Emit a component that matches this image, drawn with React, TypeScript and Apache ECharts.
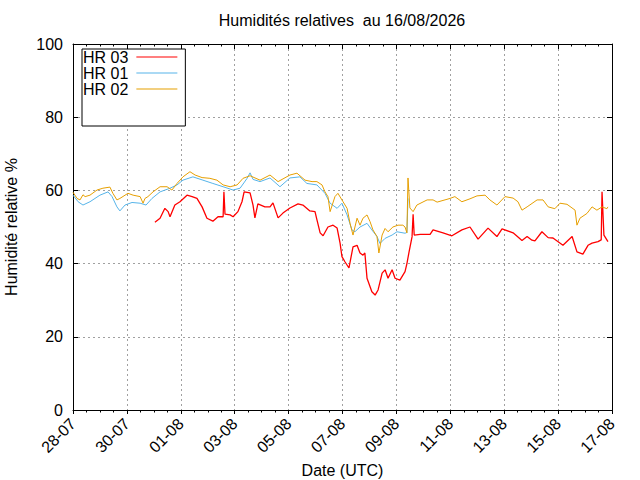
import { useEffect, useRef } from "react";
import * as echarts from "echarts";

// Time is given in days elapsed since 28-07-2026 00:00 UTC.
const BASE_UTC = Date.UTC(2026, 6, 28);
const X_MIN = 0;
const X_MAX = 20;
const X_STEP = 2;
const Y_MIN = 0;
const Y_MAX = 100;
const Y_STEP = 20;

const seriesNames = ["HR 03", "HR 01", "HR 02"];
const seriesColors = ["#ff0000", "#56b4e9", "#e69f00"];

const hr03Days = [
  3.04, 3.23, 3.41, 3.53, 3.6, 3.78, 3.97, 4.23, 4.42, 4.6, 4.79, 4.97, 5.19, 5.38, 5.57, 5.6, 5.64,
  5.83, 5.94, 6.12, 6.27, 6.35, 6.57, 6.68, 6.75, 6.86, 7.12, 7.31, 7.42, 7.61, 7.79, 8.05, 8.35,
  8.53, 8.79, 8.98, 9.05, 9.17, 9.28, 9.46, 9.65, 9.8, 9.91, 9.98, 10.09, 10.24, 10.39, 10.54,
  10.65, 10.76, 10.83, 10.91, 11.09, 11.21, 11.32, 11.47, 11.58, 11.69, 11.84, 11.95, 12.13,
  12.32, 12.39, 12.47, 12.58, 12.62, 12.66, 12.88, 13.25, 13.36, 13.73, 14.06, 14.43, 14.73,
  15.03, 15.4, 15.73, 15.92, 16.33, 16.66, 16.85, 17.03, 17.14, 17.4, 17.63, 17.81, 18.18, 18.52,
  18.7, 18.92, 19.11, 19.26, 19.48, 19.6, 19.63, 19.7, 19.85,
];
const hr03Values = [
  51.3, 52.4, 55.1, 54.2, 52.8, 56.0, 56.9, 58.7, 58.3, 57.8, 55.5, 52.4, 51.6, 52.8, 52.8, 59.6, 53.5,
  53.3, 52.8, 54.2, 56.9, 59.6, 59.3, 56.0, 52.5, 56.3, 55.5, 55.5, 56.6, 52.5, 53.8, 55.2, 56.3,
  56.0, 54.4, 54.2, 52.0, 48.4, 47.6, 50.0, 50.5, 49.7, 45.6, 41.9, 40.5, 38.8, 44.6, 45.0,
  42.9, 42.3, 42.9, 36.0, 32.3, 31.4, 32.8, 37.4, 38.3, 36.0, 38.3, 36.0, 35.5,
  37.8, 40.0, 43.2, 47.3, 53.5, 47.8, 48.0, 48.0, 49.2, 48.4, 47.6, 49.2, 50.0,
  46.7, 49.7, 47.4, 49.5, 48.4, 46.3, 47.4, 46.4, 46.2, 48.7, 47.1, 47.0, 45.0, 47.4,
  43.2, 42.6, 45.0, 45.6, 46.0, 46.5, 59.6, 47.8, 46.0,
];

const hr01Days = [
  0, 0.19, 0.37, 0.63, 1.0, 1.3, 1.45, 1.63, 1.74, 1.93, 2.19, 2.49, 2.71, 2.93, 3.23, 3.6, 3.86,
  4.08, 4.45, 4.82, 5.19, 5.57, 5.94, 6.2, 6.46, 6.57, 6.68, 6.94, 7.31, 7.68, 8.05, 8.42, 8.68,
  9.05, 9.35, 9.54, 9.8, 9.98, 10.17, 10.35, 10.46, 10.65, 10.91, 11.09, 11.28, 11.39, 11.58,
  11.84, 12.02, 12.32, 12.39, 12.43,
];
const hr01Values = [
  58.7, 56.9, 56.0, 56.9, 58.7, 59.6, 58.3, 55.5, 54.4, 56.0, 56.7, 56.5, 56.0, 57.8, 59.6, 60.6, 61.5,
  62.8, 63.7, 62.8, 61.9, 61.0, 60.1, 60.6, 63.3, 64.8, 63.0, 62.4, 63.4, 61.0, 63.4, 63.7, 61.9,
  61.5, 59.2, 56.5, 55.1, 56.5, 53.3, 49.2, 48.7, 50.0, 51.0, 49.2, 47.4, 45.5, 46.9,
  47.8, 48.7, 48.3, 48.5, 57.8,
];

const hr02Days = [
  0, 0.15, 0.26, 0.37, 0.45, 0.63, 0.89, 1.11, 1.37, 1.48, 1.63, 1.74, 2.04, 2.23, 2.49, 2.6, 2.67,
  2.78, 2.97, 3.23, 3.49, 3.67, 3.86, 4.08, 4.34, 4.53, 4.79, 5.08, 5.34, 5.57, 5.83, 6.09, 6.31,
  6.57, 6.94, 7.31, 7.61, 8.05, 8.31, 8.61, 8.87, 9.05, 9.24, 9.35, 9.46, 9.54, 9.72, 9.83, 10.02,
  10.17, 10.28, 10.39, 10.54, 10.65, 10.76, 10.91, 11.02, 11.13, 11.28, 11.35, 11.47, 11.58, 11.69,
  11.87, 12.06, 12.24, 12.32, 12.39, 12.43, 12.5, 12.62, 12.76, 13.14, 13.36, 13.51, 13.99, 14.17,
  14.43, 14.73, 14.99, 15.29, 15.47, 15.73, 16.03, 16.33, 16.51, 16.66, 16.85, 17.22, 17.44, 17.63,
  17.88, 18.07, 18.33, 18.63, 18.7, 18.81, 19.07, 19.26, 19.44, 19.63, 19.81, 19.85,
];
const hr02Values = [
  59.5, 57.8, 57.4, 58.8, 58.3, 58.7, 60.1, 60.6, 60.9, 59.2, 57.4, 57.8, 59.2, 58.7, 58.3, 56.5, 57.8,
  58.3, 59.6, 61.0, 61.0, 60.1, 61.9, 63.7, 65.1, 64.2, 63.5, 63.3, 62.8, 61.5, 61.0, 61.5, 63.3,
  64.0, 62.8, 64.2, 62.4, 64.2, 64.7, 62.8, 62.4, 62.4, 61.5, 59.6, 58.3, 54.2, 58.3, 59.2, 56.9,
  55.1, 51.0, 47.8, 52.4, 50.5, 52.4, 53.3, 51.5, 49.2, 47.4, 42.9, 47.8, 49.6, 48.7,
  50.0, 50.5, 50.5, 50.0, 48.4, 63.4, 55.2, 54.2, 56.0, 57.4, 57.4, 56.8, 57.8, 58.3,
  56.9, 57.7, 58.5, 58.7, 57.4, 56.0, 58.3, 57.9, 56.9, 54.6, 55.5, 57.4, 57.4, 55.5,
  55.0, 56.5, 56.2, 54.6, 50.5, 52.4, 53.7, 55.5, 54.6, 55.5, 55.0, 55.5,
];

const seriesDays = [hr03Days, hr01Days, hr02Days];
const seriesValues = [hr03Values, hr01Values, hr02Values];

const FONT = "'Liberation Sans', Arial, Helvetica, sans-serif";

function dayLabel(d: number): string {
  const dt = new Date(BASE_UTC + Math.round(d * 86400000));
  const dd = String(dt.getUTCDate()).padStart(2, "0");
  const mm = String(dt.getUTCMonth() + 1).padStart(2, "0");
  return `${dd}-${mm}`;
}

export default function App() {
  const ref = useRef<HTMLDivElement>(null);

  useEffect(() => {
    document.body.style.margin = "0";
    if (!ref.current) return;
    const chart = echarts.init(ref.current, undefined, { renderer: "svg" });

    const gridLine = { show: true, lineStyle: { color: "#a0a0a0", type: [2, 3], width: 1 } };
    const axisLine = { show: true, onZero: false, lineStyle: { color: "#000", width: 1 } };
    const tickIn = { show: true, inside: true, length: 5, lineStyle: { color: "#000" } };

    chart.setOption({
      animation: false,
      backgroundColor: "#fff",
      textStyle: { fontFamily: FONT },
      title: {
        text: "Humidités relatives  au 16/08/2026",
        left: 342,
        top: 12,
        textAlign: "center",
        padding: 0,
        textStyle: { fontFamily: FONT, fontSize: 16, fontWeight: "normal", color: "#000" },
      },
      legend: {
        data: seriesNames,
        orient: "vertical",
        left: 82,
        top: 49,
        align: "right",
        icon: "rect",
        itemWidth: 41,
        itemHeight: 1,
        itemGap: 0,
        padding: [0, 8, 29, 1],
        borderColor: "#000",
        borderWidth: 1,
        backgroundColor: "#fff",
        textStyle: { fontFamily: FONT, fontSize: 16, color: "#000", lineHeight: 15, padding: [0, 3, 0, 0] },
      },
      grid: { left: 73, right: 28, top: 44, bottom: 70, containLabel: false, outerBoundsMode: "none" },
      xAxis: [
        {
          type: "value",
          min: X_MIN,
          max: X_MAX,
          interval: X_STEP,
          position: "bottom",
          name: "Date (UTC)",
          nameLocation: "middle",
          nameGap: 48,
          nameTextStyle: { fontFamily: FONT, fontSize: 16, color: "#000" },
          axisLine,
          axisTick: { show: true, inside: false, length: 4, lineStyle: { color: "#000" } },
          minorTick: { show: true, splitNumber: 4, length: 2.5, lineStyle: { color: "#000" } },
          splitLine: gridLine,
          axisLabel: {
            rotate: 45,
            margin: 11,
            fontFamily: FONT,
            fontSize: 16,
            color: "#000",
            formatter: (v: number) => dayLabel(v),
          },
        },
        {
          type: "value",
          min: X_MIN,
          max: X_MAX,
          interval: X_STEP,
          position: "top",
          axisLine,
          axisTick: tickIn,
          minorTick: { show: true, splitNumber: 4, length: 2.5, lineStyle: { color: "#000" } },
          splitLine: { show: false },
          axisLabel: { show: false },
        },
      ],
      yAxis: [
        {
          type: "value",
          min: Y_MIN,
          max: Y_MAX,
          interval: Y_STEP,
          position: "left",
          name: "Humidité relative %",
          nameLocation: "middle",
          nameGap: 54,
          nameTextStyle: { fontFamily: FONT, fontSize: 16, color: "#000" },
          axisLine,
          axisTick: tickIn,
          splitLine: gridLine,
          axisLabel: { margin: 10, fontFamily: FONT, fontSize: 16, color: "#000" },
        },
        {
          type: "value",
          min: Y_MIN,
          max: Y_MAX,
          interval: Y_STEP,
          position: "right",
          axisLine,
          axisTick: tickIn,
          splitLine: { show: false },
          axisLabel: { show: false },
        },
      ],
      series: seriesNames.map((name, i) => ({
        name,
        type: "line",
        xAxisIndex: 0,
        yAxisIndex: 0,
        color: seriesColors[i],
        showSymbol: false,
        symbol: "none",
        lineStyle: { color: seriesColors[i], width: i === 0 ? 1.3 : 1 },
        data: seriesDays[i].map((d, k) => [d, seriesValues[i][k]]),
      })),
    });

    return () => chart.dispose();
  }, []);

  return (
    <div
      ref={ref}
      style={{ position: "fixed", left: 0, top: 0, width: 640, height: 480 }}
    />
  );
}
